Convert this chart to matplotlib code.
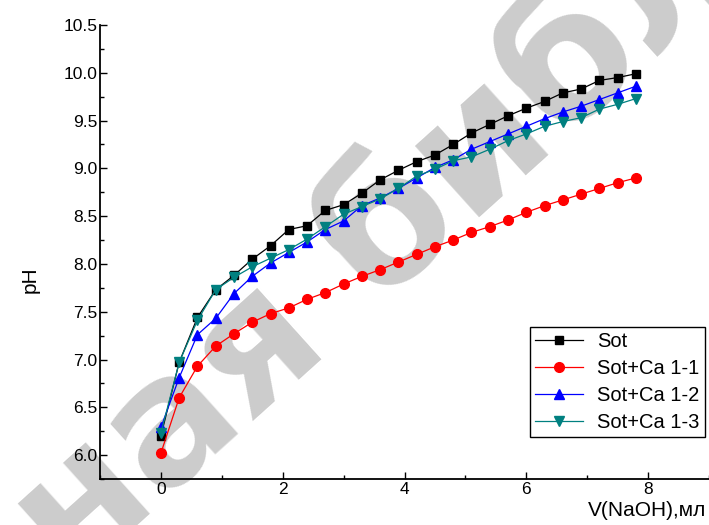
import matplotlib.pyplot as plt
from matplotlib.ticker import MultipleLocator

plt.rcParams['font.family'] = ['Liberation Sans', 'DejaVu Sans']

# titration data: V(NaOH) in ml, pH for each sample
v_naoh = [0.0, 0.3, 0.6, 0.9, 1.2, 1.5, 1.8, 2.1, 2.4, 2.7, 3.0, 3.3, 3.6, 3.9,
          4.2, 4.5, 4.8, 5.1, 5.4, 5.7, 6.0, 6.3, 6.6, 6.9, 7.2, 7.5, 7.8]
ph_sot = [6.20, 6.97, 7.44, 7.73, 7.88, 8.05, 8.19, 8.36, 8.40, 8.56, 8.62, 8.74, 8.88, 8.98,
          9.07, 9.14, 9.25, 9.37, 9.46, 9.55, 9.63, 9.70, 9.79, 9.83, 9.92, 9.95, 9.99]
ph_ca11 = [6.02, 6.60, 6.93, 7.14, 7.27, 7.39, 7.48, 7.54, 7.63, 7.70, 7.79, 7.87, 7.94, 8.02,
           8.10, 8.18, 8.25, 8.33, 8.39, 8.46, 8.54, 8.61, 8.67, 8.73, 8.79, 8.85, 8.90]
ph_ca12 = [6.29, 6.81, 7.26, 7.43, 7.69, 7.87, 8.01, 8.12, 8.23, 8.36, 8.45, 8.61, 8.69, 8.79,
           8.90, 9.01, 9.09, 9.20, 9.28, 9.36, 9.44, 9.52, 9.59, 9.65, 9.72, 9.79, 9.86]
ph_ca13 = [6.23, 6.97, 7.41, 7.73, 7.86, 7.97, 8.06, 8.15, 8.26, 8.39, 8.52, 8.60, 8.68, 8.79,
           8.92, 8.99, 9.08, 9.12, 9.20, 9.29, 9.36, 9.44, 9.49, 9.53, 9.62, 9.67, 9.73]

fig = plt.figure(figsize=(7.09, 5.25), dpi=100)
ax = fig.add_axes([100/709, 46/525, 609/709, 454/525])
ax.patch.set_visible(False)

# watermark behind everything
fig.text(72/709, 1 - 585/525, "ная библиотека", rotation=42, rotation_mode='anchor',
         ha='left', va='baseline', fontsize=126, fontweight='bold',
         color='#cccccc', zorder=-5, family=['DejaVu Sans'])

ax.plot(v_naoh, ph_sot, '-s', color='black', lw=0.9, ms=6.3, label='Sot')
ax.plot(v_naoh, ph_ca11, '-o', color='red', lw=0.9, ms=7, label='Sot+Ca 1-1')
ax.plot(v_naoh, ph_ca12, '-^', color='blue', lw=0.9, ms=7.5, label='Sot+Ca 1-2')
ax.plot(v_naoh, ph_ca13, '-v', color='#008080', lw=0.9, ms=7.5, label='Sot+Ca 1-3')

ax.set_xlim(-1, 9)
ax.set_ylim(5.75, 10.5)
ax.spines['top'].set_visible(False)
ax.spines['right'].set_visible(False)
for s in ('left', 'bottom'):
    ax.spines[s].set_linewidth(1.3)
ax.xaxis.set_major_locator(MultipleLocator(2))
ax.xaxis.set_minor_locator(MultipleLocator(1))
ax.yaxis.set_major_locator(MultipleLocator(0.5))
ax.yaxis.set_minor_locator(MultipleLocator(0.25))
ax.tick_params(which='both', direction='in', labelsize=12.5, pad=2)
ax.tick_params(which='major', length=5, width=1)
ax.tick_params(which='minor', length=3, width=1)
ax.set_yticks([6.0, 6.5, 7.0, 7.5, 8.0, 8.5, 9.0, 9.5, 10.0, 10.5])
ax.set_yticklabels(['6.0', '6.5', '7.0', '7.5', '8.0', '8.5', '9.0', '9.5', '10.0', '10.5'])

fig.text(30/709, 1 - 280/525, 'pH', rotation=90, ha='center', va='center', fontsize=15)
fig.text(706/709, 1 - 510/525, 'V(NaOH),мл', ha='right', va='center', fontsize=15)

leg = ax.legend(loc='upper left', bbox_to_anchor=(530/709, 1 - 327/525),
                bbox_transform=fig.transFigure, fontsize=14.5, handlelength=2.4,
                handletextpad=0.7, borderpad=0.25, labelspacing=0.4,
                borderaxespad=0, fancybox=False, framealpha=1, edgecolor='black')
leg.get_frame().set_linewidth(1)

fig.savefig('out.png', dpi=100)
